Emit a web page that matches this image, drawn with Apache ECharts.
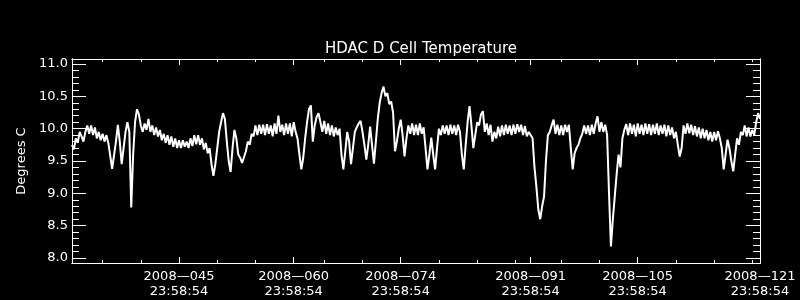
<!DOCTYPE html>
<html>
<head>
<meta charset="utf-8">
<script src="https://cdn.jsdelivr.net/npm/echarts@6/dist/echarts.min.js"></script>
<style>
html,body{margin:0;padding:0;background:#000;}
#chart{width:800px;height:300px;}
</style>
</head>
<body>
<div id="chart"></div>
<script>
// Sampling: day-of-year (2008), tick days correspond to DDD 23:58:54
var startDay = 31;
var stepDay = 0.25;
var temps = [
9.75,9.68,9.85,9.78,9.95,9.88,9.80,9.95,10.05,9.92,
10.05,9.90,10.02,9.85,9.95,9.82,9.92,9.80,9.90,9.78,
9.75,9.38,9.40,9.80,10.06,9.80,9.45,9.70,9.95,10.10,
9.95,8.78,9.60,10.10,10.30,10.22,10.05,9.95,10.08,9.98,
10.15,9.95,10.05,9.90,10.02,9.88,9.98,9.82,9.92,9.78,
9.90,9.75,9.88,9.72,9.85,9.70,9.82,9.70,9.82,9.72,
9.80,9.70,9.85,9.73,9.90,9.76,9.90,9.75,9.85,9.68,
9.78,9.62,9.70,9.45,9.27,9.45,9.70,9.95,10.10,10.24,
10.15,9.80,9.50,9.33,9.70,9.98,9.85,9.60,9.55,9.47,
9.46,9.65,9.80,9.75,9.92,9.88,10.05,9.90,10.06,9.92,
10.06,9.90,10.07,9.92,10.05,9.88,10.08,9.92,10.20,9.95,
10.06,9.90,10.08,9.92,10.08,9.88,10.10,9.95,9.85,9.60,
9.37,9.55,9.85,10.10,10.30,10.36,9.80,10.05,10.18,10.24,
10.10,9.95,10.12,9.92,10.08,9.90,10.05,9.88,10.02,9.90,
10.00,9.60,9.37,9.65,9.95,9.80,9.45,9.70,9.95,10.02,
10.08,10.12,9.95,9.75,9.52,9.75,10.03,9.75,9.46,9.80,
10.15,10.40,10.55,10.65,10.50,10.55,10.38,10.42,10.25,9.65,
9.80,10.00,10.14,9.90,9.57,9.85,10.05,9.92,10.08,9.90,
10.06,9.90,10.08,9.92,10.02,9.70,9.37,9.60,9.86,9.60,
9.37,9.70,10.00,9.90,10.05,9.92,10.05,9.90,10.06,9.92,
10.05,9.90,10.06,9.95,9.60,9.37,9.75,10.10,10.35,10.05,
9.70,9.90,10.10,10.05,10.22,10.27,9.95,10.08,9.90,10.06,
9.80,9.95,9.85,10.03,9.88,10.05,9.90,10.06,9.92,10.05,
9.90,10.06,9.92,10.07,9.95,10.06,9.90,10.04,9.88,9.95,
9.92,9.85,9.40,9.10,8.75,8.60,8.80,8.95,9.50,9.90,
9.95,10.05,10.14,9.92,10.06,9.90,10.05,9.90,10.06,9.95,
10.06,9.70,9.37,9.62,9.70,9.75,9.85,9.92,10.05,9.92,
10.05,9.90,10.06,9.92,10.08,10.19,9.95,10.10,9.95,10.06,
9.90,9.00,8.18,8.60,8.95,9.30,9.60,9.40,9.85,9.98,
10.07,9.90,10.08,9.92,10.06,9.88,10.08,9.92,10.06,9.90,
10.08,9.92,10.07,9.90,10.06,9.92,10.08,9.90,10.05,9.92,
10.06,9.88,10.05,9.90,10.02,9.85,9.95,9.75,9.57,9.70,
10.05,9.92,10.08,9.93,10.06,9.90,10.04,9.88,10.02,9.85,
10.00,9.85,9.98,9.82,9.95,9.80,9.95,9.82,9.96,9.85,
9.70,9.37,9.60,9.83,9.70,9.50,9.34,9.60,9.85,9.75,
9.95,9.90,10.05,9.88,10.02,9.88,9.98,9.90,10.10,10.24,
10.15
];
var majorDays = [45, 60, 74, 91, 105, 121];
var minorDays = [35, 40, 50, 55, 64, 69, 79, 84, 89, 95, 100, 110, 115, 120];
var timeOfDay = '23:58:54';
var yMajor = [8.0, 8.5, 9.0, 9.5, 10.0, 10.5, 11.0];
var yMinor = [8.1,8.2,8.3,8.4,8.6,8.7,8.8,8.9,9.1,9.2,9.3,9.4,9.6,9.7,9.8,9.9,
              10.1,10.2,10.3,10.4,10.6,10.7,10.8,10.9];
var titleText = 'HDAC D Cell Temperature';
var yName = 'Degrees C';

var seriesData = temps.map(function (v, i) { return [startDay + i * stepDay, v]; });

var FONT = 'DejaVu Sans';
var white = '#ffffff';
var xMin = 31, xMax = 121, yMin = 7.923, yMax = 11.077;

function pad3(n) { n = String(Math.round(n)); while (n.length < 3) n = '0' + n; return n; }

function xAxisDef(pos, ticks, len, withLabels) {
  return {
    type: 'value', position: pos, min: xMin, max: xMax,
    axisLine: { show: true, onZero: false, lineStyle: { color: white, width: 1 } },
    axisTick: { show: true, inside: true, length: len, customValues: ticks, lineStyle: { color: white, width: 1 } },
    axisLabel: withLabels ? {
      show: true, customValues: ticks, color: white, fontFamily: FONT, fontSize: 13,
      lineHeight: 15, margin: 6,
      formatter: function (v) { return '2008\u2014' + pad3(v) + '\n' + timeOfDay; }
    } : { show: false },
    splitLine: { show: false }
  };
}
function yAxisDef(pos, ticks, len, withLabels, name) {
  var a = {
    type: 'value', position: pos, min: yMin, max: yMax,
    axisLine: { show: true, onZero: false, lineStyle: { color: white, width: 1 } },
    axisTick: { show: true, inside: true, length: len, customValues: ticks, lineStyle: { color: white, width: 1 } },
    axisLabel: withLabels ? {
      show: true, customValues: ticks, color: white, fontFamily: FONT, fontSize: 13, margin: 4,
      formatter: function (v) { return v.toFixed(1); }
    } : { show: false },
    splitLine: { show: false }
  };
  if (name) {
    a.name = name;
    a.nameLocation = 'middle';
    a.nameGap = 44;
    a.nameTextStyle = { color: white, fontFamily: FONT, fontSize: 13, padding: [0, 0, 0, 0] };
  }
  return a;
}

var chart = echarts.init(document.getElementById('chart'), null, { renderer: 'canvas' });
chart.setOption({
  backgroundColor: '#000000',
  animation: false,
  title: {
    text: titleText, left: 416, top: 37, textAlign: 'center',
    textStyle: { color: white, fontFamily: FONT, fontSize: 15, fontWeight: 'normal' }
  },
  grid: { left: 72, right: 40, top: 59, bottom: 37, containLabel: false },
  xAxis: [
    xAxisDef('bottom', majorDays, 6, true),
    xAxisDef('bottom', minorDays, 3, false),
    xAxisDef('top', majorDays, 6, false),
    xAxisDef('top', minorDays, 3, false)
  ],
  yAxis: [
    yAxisDef('left', yMajor, 14, true, yName),
    yAxisDef('left', yMinor, 7, false),
    yAxisDef('right', yMajor, 14, false),
    yAxisDef('right', yMinor, 7, false)
  ],
  series: [{
    type: 'line', data: seriesData, xAxisIndex: 0, yAxisIndex: 0,
    showSymbol: false, symbol: 'none',
    lineStyle: { color: white, width: 2 },
    clip: true
  }]
});
</script>
</body>
</html>
